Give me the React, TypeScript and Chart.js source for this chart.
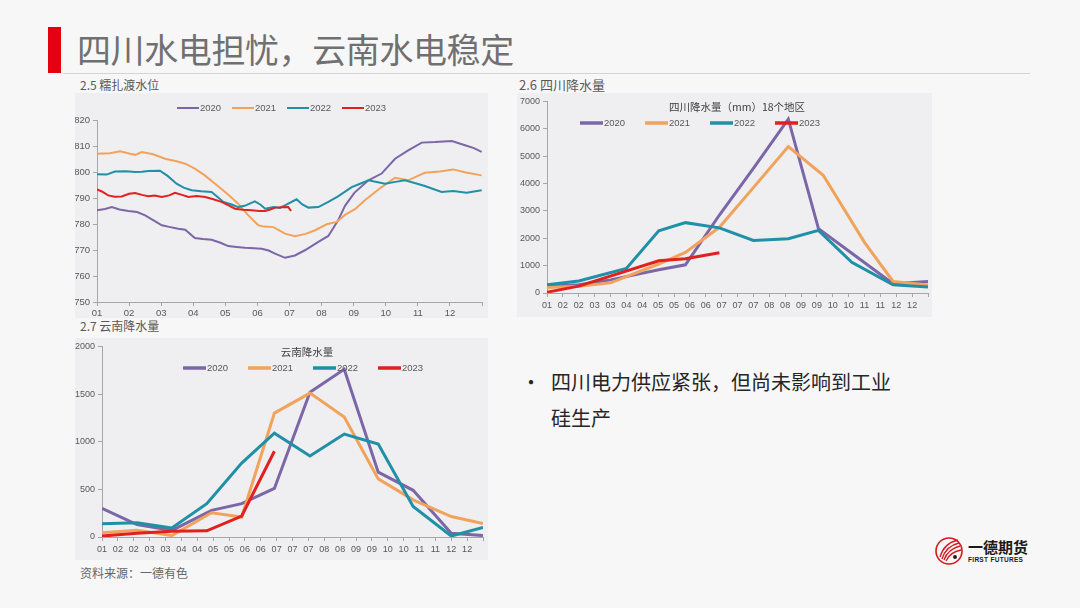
import React, { useEffect, useRef } from 'react';
import { Chart, registerables } from 'chart.js';

Chart.register(...registerables);

const FONT_NUM = '"Liberation Sans", Arial, sans-serif';
const FONT_CJK = '"Noto Sans CJK SC", "Noto Sans", sans-serif';

// ---------- data ----------
const years = ['2020', '2021', '2022', '2023'];
const monthLabels = ['01', '02', '03', '04', '05', '06', '07', '08', '09', '10', '11', '12'];
const halfMonthLabels = ['01', '02', '02', '03', '03', '04', '04', '05', '05', '06', '06', '07', '07', '07', '08', '08', '09', '09', '10', '10', '11', '11', '12', '12'];

// 2.5 糯扎渡水位  [month position, level]
const nzd2020: number[][] = [[0, 785.3], [0.25, 785.8], [0.46, 786.5], [0.7, 785.6], [0.98, 785.0], [1.25, 784.6], [1.5, 783.3], [1.75, 781.5], [2.02, 779.5], [2.25, 778.9], [2.53, 778.2], [2.75, 777.8], [3.05, 774.6], [3.3, 774.2], [3.57, 773.9], [3.85, 772.8], [4.09, 771.5], [4.35, 771.2], [4.61, 770.9], [4.9, 770.7], [5.13, 770.5], [5.35, 769.8], [5.55, 768.6], [5.86, 767.0], [6.17, 767.9], [6.48, 769.9], [6.9, 773.1], [7.21, 775.4], [7.52, 781.5], [7.73, 787.0], [8.02, 792.0], [8.46, 796.8], [8.87, 799.4], [9.29, 805.1], [9.7, 808.3], [10.12, 811.3], [10.54, 811.5], [11.06, 811.9], [11.47, 810.3], [11.75, 809.2], [11.99, 807.7]];
const nzd2021: number[][] = [[0, 807.0], [0.4, 807.2], [0.72, 808.0], [1.03, 807.0], [1.2, 806.6], [1.39, 807.7], [1.75, 806.8], [2.12, 805.1], [2.48, 804.1], [2.75, 803.2], [3.05, 801.3], [3.35, 798.8], [3.68, 795.5], [4.05, 791.7], [4.4, 787.8], [4.7, 783.5], [5.03, 779.5], [5.2, 779.0], [5.5, 778.8], [5.86, 776.3], [6.17, 775.3], [6.5, 776.2], [6.8, 777.6], [7.16, 779.9], [7.47, 780.8], [7.73, 783.5], [8.05, 785.8], [8.35, 789.1], [8.87, 794.2], [9.29, 797.8], [9.7, 796.8], [10.0, 798.5], [10.22, 799.7], [10.68, 800.2], [11.1, 801.0], [11.5, 799.8], [11.99, 798.7]];
const nzd2022: number[][] = [[0, 799.1], [0.3, 799.0], [0.56, 800.2], [0.9, 800.3], [1.19, 800.0], [1.4, 800.1], [1.6, 800.4], [1.96, 800.5], [2.2, 798.5], [2.48, 795.5], [2.7, 794.0], [2.95, 793.0], [3.25, 792.6], [3.57, 792.3], [3.75, 790.5], [3.94, 788.5], [4.2, 787.5], [4.4, 786.5], [4.6, 787.0], [4.92, 788.7], [5.1, 787.4], [5.24, 785.9], [5.5, 786.5], [5.7, 786.2], [5.86, 787.2], [6.22, 789.5], [6.4, 787.5], [6.59, 786.3], [6.9, 786.5], [7.21, 788.5], [7.5, 790.5], [7.94, 794.2], [8.2, 795.5], [8.46, 796.8], [8.98, 795.5], [9.3, 796.2], [9.6, 796.8], [9.9, 795.8], [10.22, 794.6], [10.74, 792.3], [11.1, 792.7], [11.52, 792.0], [11.99, 793.0]];
const nzd2023: number[][] = [[0, 793.3], [0.15, 792.5], [0.35, 791.0], [0.55, 790.5], [0.77, 790.6], [1.0, 791.6], [1.19, 791.9], [1.4, 791.2], [1.6, 790.7], [1.8, 791.0], [2.02, 790.4], [2.25, 791.0], [2.43, 792.0], [2.65, 791.2], [2.85, 790.4], [3.1, 790.8], [3.37, 790.4], [3.6, 789.6], [3.88, 788.5], [4.1, 787.2], [4.3, 785.9], [4.55, 785.5], [4.82, 785.3], [5.05, 785.0], [5.24, 785.0], [5.4, 785.6], [5.55, 786.3], [5.75, 786.4], [5.96, 786.5], [6.05, 785.0]];

// 2.6 四川降水量 (mm) 18个地区
const sc2020: number[][] = [[0, 250], [1, 300], [2, 480], [3.52, 850], [4.36, 1030], [5.43, 2850], [6.5, 4550], [7.6, 6350], [8.55, 2350], [9.6, 1450], [10.9, 340], [12, 420]];
const sc2021: number[][] = [[0, 200], [1, 250], [2, 370], [3.5, 1050], [4.36, 1480], [5.43, 2400], [6.5, 3850], [7.6, 5350], [8.7, 4300], [10.0, 1850], [10.9, 420], [12, 290]];
const sc2022: number[][] = [[0, 300], [1, 440], [2.5, 900], [3.52, 2270], [4.36, 2570], [5.43, 2380], [6.5, 1920], [7.6, 1980], [8.55, 2290], [9.6, 1120], [10.9, 300], [12, 220]];
const sc2023: number[][] = [[0, 30], [1, 250], [3.52, 1180], [4.36, 1250], [5.43, 1470]];

// 2.7 云南降水量
const yn2020: number[][] = [[0, 300], [1.1, 130], [2.2, 70], [3.45, 280], [4.4, 350], [5.43, 510], [6.55, 1520], [7.63, 1760], [8.7, 680], [9.8, 490], [11.0, 40], [12, 15]];
const yn2021: number[][] = [[0, 45], [1.1, 70], [2.2, 15], [3.45, 255], [4.4, 210], [5.43, 1300], [6.55, 1510], [7.63, 1260], [8.7, 610], [9.8, 390], [11.0, 215], [12, 140]];
const yn2022: number[][] = [[0, 140], [1.1, 150], [2.2, 95], [3.3, 350], [4.4, 775], [5.43, 1090], [6.55, 850], [7.63, 1080], [8.7, 975], [9.8, 320], [11.0, 10], [12, 100]];
const yn2023: number[][] = [[0, 10], [1.1, 40], [2.2, 60], [3.3, 65], [4.4, 220], [5.43, 900]];

// ---------- styles ----------
const seriesColors = ['#7b67a7', '#f2a35b', '#1f90a6', '#e0211f'];
const axisColor = '#a6a6a6';
const textColor = '#595959';

const overlayLegend = {
  id: 'overlayLegend',
  afterDatasetsDraw(chart: any, _args: any, opts: any) {
    if (!opts || !opts.enabled) return;
    const ctx = chart.ctx;
    ctx.save();
    if (opts.title) {
      ctx.font = `${opts.titleSize}px ${FONT_CJK}`;
      ctx.fillStyle = '#404040';
      ctx.textAlign = 'center';
      ctx.textBaseline = 'middle';
      ctx.fillText(opts.title, opts.titleX, opts.titleY);
    }
    chart.data.datasets.forEach((ds: any, i: number) => {
      const x = opts.x + i * opts.stride;
      ctx.strokeStyle = ds.borderColor;
      ctx.lineWidth = opts.lineWidth;
      ctx.lineCap = 'butt';
      ctx.beginPath();
      ctx.moveTo(x, opts.y);
      ctx.lineTo(x + opts.lineLen, opts.y);
      ctx.stroke();
      ctx.fillStyle = textColor;
      ctx.font = `${opts.fontSize}px ${FONT_NUM}`;
      ctx.textAlign = 'left';
      ctx.textBaseline = 'middle';
      ctx.fillText(ds.label, x + opts.lineLen + 1, opts.y + 0.5);
    });
    ctx.restore();
  },
};

function toPts(arr: number[][]) {
  return arr.map(([x, y]) => ({ x, y }));
}

type Cfg = {
  series: number[][][];
  lineWidth: number;
  yMin: number;
  yMax: number;
  yStep: number;
  xLabels: string[];
  xStep: number;
  padding: { top: number; right: number; left: number; bottom: number };
  yWidth: number;
  xHeight: number;
  tickSize: number;
  xTickPad: number;
  legend: any;
};

function buildConfig(c: Cfg): any {
  const tickFont = { family: FONT_NUM, size: c.tickSize };
  return {
    type: 'line',
    data: {
      datasets: c.series.map((s, i) => ({
        label: years[i],
        data: toPts(s),
        borderColor: seriesColors[i],
        backgroundColor: seriesColors[i],
        borderWidth: c.lineWidth,
        pointRadius: 0,
        tension: 0,
        fill: false,
        order: c.series.length - i,
      })),
    },
    options: {
      responsive: false,
      animation: false,
      events: [],
      layout: { padding: c.padding },
      plugins: {
        legend: { display: false },
        title: { display: false },
        tooltip: { enabled: false },
        overlayLegend: c.legend,
      },
      scales: {
        x: {
          type: 'linear',
          min: 0,
          max: 12,
          afterFit: (s: any) => {
            s.height = c.xHeight;
          },
          ticks: {
            stepSize: c.xStep,
            autoSkip: false,
            maxRotation: 0,
            minRotation: 0,
            color: textColor,
            font: tickFont,
            padding: c.xTickPad,
            callback: (_v: any, idx: number) => c.xLabels[idx] ?? '',
          },
          grid: { display: true, drawOnChartArea: false, drawTicks: true, tickLength: 4, color: axisColor },
          border: { display: true, color: axisColor, width: 1 },
        },
        y: {
          type: 'linear',
          min: c.yMin,
          max: c.yMax,
          afterFit: (s: any) => {
            s.width = c.yWidth;
          },
          ticks: {
            stepSize: c.yStep,
            color: textColor,
            font: tickFont,
            padding: 3,
            callback: (v: any) => String(v),
          },
          grid: { display: true, drawOnChartArea: false, drawTicks: true, tickLength: 4, color: axisColor },
          border: { display: true, color: axisColor, width: 1 },
        },
      },
    },
    plugins: [overlayLegend],
  };
}

function ChartPanel({ cfg, left, top, width, height }: { cfg: Cfg; left: number; top: number; width: number; height: number }) {
  const ref = useRef<HTMLCanvasElement | null>(null);
  useEffect(() => {
    if (!ref.current) return;
    const chart = new Chart(ref.current, buildConfig(cfg));
    return () => chart.destroy();
  }, []);
  return (
    <div style={{ position: 'absolute', left, top, width, height, background: '#efeef0' }}>
      <canvas ref={ref} width={width} height={height} style={{ display: 'block', width, height }} />
    </div>
  );
}

const cfgLevel: Cfg = {
  series: [nzd2020, nzd2021, nzd2022, nzd2023],
  lineWidth: 2,
  yMin: 750,
  yMax: 820,
  yStep: 10,
  xLabels: monthLabels,
  xStep: 1,
  padding: { top: 27, right: 6, left: 0, bottom: 0 },
  yWidth: 22,
  xHeight: 16,
  tickSize: 9.5,
  xTickPad: 2,
  legend: { enabled: true, x: 102, y: 15, stride: 55, lineLen: 22, lineWidth: 2, fontSize: 9.5 },
};

const cfgSichuan: Cfg = {
  series: [sc2020, sc2021, sc2022, sc2023],
  lineWidth: 3,
  yMin: 0,
  yMax: 7000,
  yStep: 1000,
  xLabels: halfMonthLabels,
  xStep: 0.5,
  padding: { top: 6, right: 4, left: 0, bottom: 0 },
  yWidth: 30,
  xHeight: 24,
  tickSize: 9,
  xTickPad: 3,
  legend: {
    enabled: true,
    title: '四川降水量（mm）18个地区',
    titleSize: 10.5,
    titleX: 220,
    titleY: 14,
    x: 63,
    y: 30,
    stride: 65,
    lineLen: 23,
    lineWidth: 3.5,
    fontSize: 9.5,
  },
};

const cfgYunnan: Cfg = {
  series: [yn2020, yn2021, yn2022, yn2023],
  lineWidth: 3,
  yMin: 0,
  yMax: 2000,
  yStep: 500,
  xLabels: halfMonthLabels,
  xStep: 0.5,
  padding: { top: 6, right: 5, left: 0, bottom: 0 },
  yWidth: 27,
  xHeight: 23,
  tickSize: 9,
  xTickPad: 3,
  legend: {
    enabled: true,
    title: '云南降水量',
    titleSize: 10.5,
    titleX: 232,
    titleY: 14,
    x: 108,
    y: 30,
    stride: 65,
    lineLen: 23,
    lineWidth: 3.5,
    fontSize: 9.5,
  },
};

const labelStyle: React.CSSProperties = {
  position: 'absolute',
  fontFamily: FONT_CJK,
  fontSize: 12,
  color: '#595959',
  lineHeight: '14px',
  whiteSpace: 'nowrap',
};

function Logo() {
  return (
    <div style={{ position: 'absolute', left: 934, top: 535, width: 100, height: 32 }}>
      <svg width="32" height="32" viewBox="0 0 32 32" style={{ position: 'absolute', left: 0, top: 0 }}>
        <circle cx="15" cy="16" r="13" fill="none" stroke="#d7191f" strokeWidth="1.6" />
        <path d="M6 22 Q10 8 24 5" stroke="#d7191f" strokeWidth="1.3" fill="none" />
        <path d="M8 24 Q12 11 25 8" stroke="#d7191f" strokeWidth="1.3" fill="none" />
        <path d="M10 25 Q14 14 26 11" stroke="#d7191f" strokeWidth="1.3" fill="none" />
        <path d="M12 26 Q16 17 27 15" stroke="#d7191f" strokeWidth="1.3" fill="none" />
        <circle cx="21" cy="22" r="2" fill="#222" />
      </svg>
      <div style={{ position: 'absolute', left: 34, top: 3, fontFamily: FONT_CJK, fontWeight: 700, fontSize: 15, lineHeight: '17px', color: '#1a1a1a', whiteSpace: 'nowrap' }}>一德期货</div>
      <div style={{ position: 'absolute', left: 34, top: 21, fontFamily: FONT_NUM, fontWeight: 700, fontSize: 6.5, lineHeight: '8px', color: '#1a1a1a', letterSpacing: 0.3, whiteSpace: 'nowrap' }}>FIRST FUTURES</div>
    </div>
  );
}

export default function App() {
  return (
    <div style={{ position: 'absolute', left: 0, top: 0, width: 1080, height: 608, background: '#f7f7f7', overflow: 'hidden' }}>
      <div style={{ position: 'absolute', left: 48, top: 27, width: 13, height: 46, background: '#e50012' }} />
      <div style={{ position: 'absolute', left: 77, top: 29, fontFamily: FONT_CJK, fontSize: 34, lineHeight: '40px', color: '#707070', whiteSpace: 'nowrap', letterSpacing: -0.4 }}>四川水电担忧，云南水电稳定</div>
      <div style={{ position: 'absolute', left: 63, top: 73, width: 967, height: 1, background: '#d4d4d4' }} />

      <div style={{ ...labelStyle, left: 80, top: 78 }}>2.5 糯扎渡水位</div>
      <div style={{ ...labelStyle, left: 519, top: 78, fontSize: 13 }}>2.6 四川降水量</div>
      <div style={{ ...labelStyle, left: 80, top: 319 }}>2.7 云南降水量</div>

      <ChartPanel cfg={cfgLevel} left={75} top={93} width={413} height={225} />
      <ChartPanel cfg={cfgSichuan} left={517} top={93} width={415} height={224} />
      <ChartPanel cfg={cfgYunnan} left={75} top={338} width={413} height={222} />

      <div style={{ ...labelStyle, left: 80, top: 566, color: '#666' }}>资料来源：一德有色</div>

      <div style={{ position: 'absolute', left: 521, top: 364, fontFamily: FONT_CJK, fontSize: 20, lineHeight: '36px', color: '#262626' }}>•</div>
      <div style={{ position: 'absolute', left: 551, top: 364, fontFamily: FONT_CJK, fontSize: 20, lineHeight: '36px', color: '#262626', whiteSpace: 'nowrap' }}>
        四川电力供应紧张，但尚未影响到工业
        <br />
        硅生产
      </div>

      <Logo />
    </div>
  );
}
